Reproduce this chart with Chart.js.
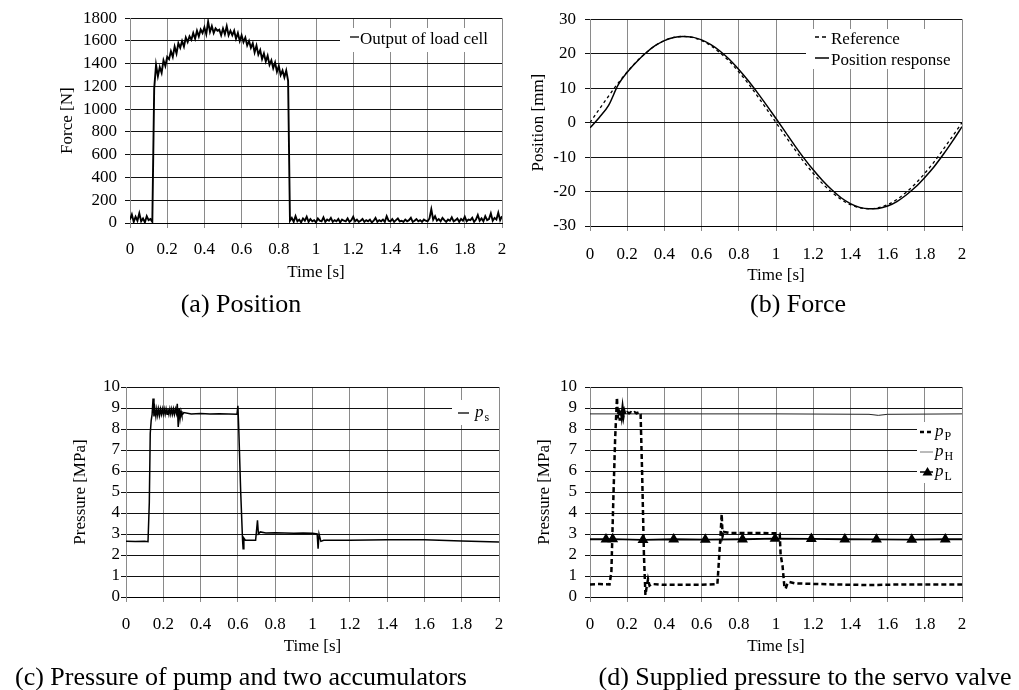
<!DOCTYPE html>
<html>
<head>
<meta charset="utf-8">
<script src="https://cdn.jsdelivr.net/npm/chart.js@4.4.1/dist/chart.umd.min.js"></script>
<style>
  html, body { margin: 0; padding: 0; background: #fff; }
  #wrap { position: relative; width: 1019px; height: 690px; overflow: hidden; }
  #wrap canvas { position: absolute; left: 0; top: 0; }
  .cap { position: absolute; transform: translate(-50%, -50%); white-space: nowrap;
         font: 26px 'Liberation Serif', 'Times New Roman', serif; color: #000; }
</style>
</head>
<body>
<div id="wrap">
  <canvas id="cA" width="1019" height="690"></canvas>
  <canvas id="cB" width="1019" height="690"></canvas>
  <canvas id="cC" width="1019" height="690"></canvas>
  <canvas id="cD" width="1019" height="690"></canvas>
  <div class="cap" style="left:241px;top:304px">(a) Position</div>
  <div class="cap" style="left:798px;top:304px">(b) Force</div>
  <div class="cap" style="left:241px;top:677px">(c) Pressure of pump and two accumulators</div>
  <div class="cap" style="left:805px;top:677px">(d) Supplied pressure to the servo valve</div>
</div>
<script>
// ---- tick labels ----
const timeTicks = ["0", "0.2", "0.4", "0.6", "0.8", "1", "1.2", "1.4", "1.6", "1.8", "2"];
const forceTicks = ["0", "200", "400", "600", "800", "1000", "1200", "1400", "1600", "1800"];
const positionTicks = ["-30", "-20", "-10", "0", "10", "20", "30"];
const pressureTicks = ["0", "1", "2", "3", "4", "5", "6", "7", "8", "9", "10"];

// ---- (a) load cell force, sampled every 0.01 s ----
const forceStep = 0.01;
const forceVal = [
  30, 75, 10, 55, 20, 85, 15, 40, 5, 60, 25, 35, 10,
  1180, 1390, 1290, 1370, 1320, 1430, 1380, 1460, 1440, 1510,
  1460, 1550, 1490, 1580, 1540, 1600, 1550, 1630, 1590, 1640,
  1610, 1670, 1620, 1690, 1640, 1700, 1670, 1720, 1660, 1770,
  1680, 1730, 1670, 1710, 1690, 1700, 1650, 1710, 1660, 1730,
  1650, 1690, 1650, 1690, 1620, 1670, 1600, 1650, 1590, 1630,
  1560, 1600, 1540, 1580, 1500, 1560, 1480, 1520, 1440, 1490,
  1420, 1470, 1390, 1430, 1360, 1410, 1330, 1380, 1300, 1340,
  1280, 1340, 1250,
  20, 45, 10, 60, 15, 30, 5, 40, 20, 55,
  10, 35, 15, 25, 5, 40, 20, 15, 50, 10,
  30, 20, 45, 10, 25, 15, 35, 5, 30, 20,
  15, 40, 10, 25, 55, 15, 30, 10, 20, 35,
  10, 25, 15, 30, 5, 20, 45, 10, 25, 15,
  30, 10, 60, 20, 15, 35, 10, 25, 40, 15,
  20, 10, 30, 15, 25, 45, 10, 20, 35, 15,
  25, 10, 30, 20, 15, 40, 120, 30, 60, 20,
  35, 15, 45, 25, 10, 30, 20, 50, 15, 25,
  40, 10, 35, 20, 55, 15, 30, 25, 45, 10,
  30, 70, 20, 40, 15, 60, 25, 35, 85, 20,
  45, 30, 90, 25, 60
];

// ---- (b) position, sampled every 0.05 s ----
const posStep = 0.05;
const posReference = [
  0, 3.9, 7.7, 11.4, 14.7, 17.7, 20.2, 22.3, 23.8, 24.7, 25,
  24.7, 23.8, 22.3, 20.2, 17.7, 14.7, 11.4, 7.7, 3.9, 0,
  -3.9, -7.7, -11.4, -14.7, -17.7, -20.2, -22.3, -23.8, -24.7, -25,
  -24.7, -23.8, -22.3, -20.2, -17.7, -14.7, -11.4, -7.7, -3.9, 0
];
const posResponse = [
  -1.5, 1.5, 5.0, 10.8, 14.6, 17.6, 20.2, 22.3, 23.8, 24.7, 25.0,
  24.8, 24.0, 22.6, 20.7, 18.3, 15.4, 12.2, 8.7, 5.0, 1.2,
  -2.7, -6.6, -10.3, -13.7, -16.8, -19.5, -21.8, -23.5, -24.6, -25.0,
  -24.9, -24.2, -22.9, -21.0, -18.7, -15.9, -12.8, -9.2, -5.3, -1.2
];

// ---- (c) p_s ----
const psTime = [
  0, 0.05, 0.1, 0.118, 0.125, 0.13, 0.135, 0.14, 0.145, 0.15,
  0.155, 0.16, 0.165, 0.17, 0.175, 0.18, 0.185, 0.19, 0.195, 0.2,
  0.205, 0.21, 0.215, 0.22, 0.225, 0.23, 0.235, 0.24, 0.245, 0.25,
  0.255, 0.26, 0.265, 0.27, 0.275, 0.28, 0.285, 0.29, 0.295, 0.3,
  0.31, 0.35, 0.4, 0.45, 0.5, 0.55, 0.595, 0.6, 0.605, 0.615,
  0.625, 0.628, 0.632, 0.64, 0.67, 0.695, 0.705, 0.71, 0.72, 0.75,
  0.8, 0.85, 0.9, 0.95, 1.0, 1.025, 1.03, 1.035, 1.045, 1.06,
  1.2, 1.4, 1.6, 1.8, 2.0
];
const psVal = [
  2.65, 2.64, 2.65, 2.63, 4.5, 7.8, 8.4, 8.7, 9.45, 8.6,
  8.95, 8.6, 8.95, 8.65, 8.95, 8.65, 8.95, 8.7, 8.95, 8.7,
  8.95, 8.7, 8.95, 8.7, 8.95, 8.7, 8.95, 8.7, 8.95, 8.7,
  8.95, 8.7, 8.95, 8.75, 9.2, 8.1, 9.0, 8.5, 8.85, 8.65,
  8.78, 8.72, 8.74, 8.72, 8.73, 8.72, 8.7, 9.1, 7.9, 5.0,
  2.7, 2.3, 2.8, 2.7, 2.7, 2.7, 3.65, 3.0, 3.1, 3.05,
  3.06, 3.05, 3.03, 3.05, 3.04, 3.0, 2.3, 3.0, 2.65, 2.7,
  2.7, 2.73, 2.73, 2.67, 2.62
];

// ---- (d) p_P, p_H, p_L ----
const ppTime = [
  0, 0.05, 0.105, 0.115, 0.125, 0.135, 0.145, 0.15, 0.155, 0.16,
  0.165, 0.17, 0.175, 0.18, 0.185, 0.19, 0.2, 0.21, 0.22, 0.23,
  0.24, 0.25, 0.265, 0.272, 0.28, 0.29, 0.298, 0.305, 0.312, 0.32,
  0.33, 0.4, 0.5, 0.6, 0.685, 0.695, 0.702, 0.708, 0.713, 0.72,
  0.75, 0.8, 0.9, 1.0, 1.02, 1.025, 1.035, 1.045, 1.052, 1.06,
  1.07, 1.1, 1.3, 1.5, 1.7, 2.0
];
const ppVal = [
  0.6, 0.62, 0.6, 1.2, 4.5, 7.5, 9.5, 8.5, 9.0, 8.4,
  8.9, 8.6, 9.0, 8.6, 8.85, 8.7, 8.8, 8.75, 8.8, 8.75,
  8.8, 8.75, 8.8, 8.7, 6.0, 2.0, 0.1, 0.5, 0.85, 0.55,
  0.62, 0.58, 0.58, 0.58, 0.62, 2.0, 3.0, 3.95, 2.9, 3.1,
  3.05, 3.05, 3.05, 3.03, 3.02, 2.0, 1.5, 0.5, 0.4, 0.6,
  0.72, 0.65, 0.6, 0.57, 0.6, 0.6
];
const phTime = [0, 0.5, 1.0, 1.5, 1.55, 1.6, 2.0];
const phVal = [8.72, 8.72, 8.72, 8.7, 8.65, 8.7, 8.72];
const plTime = [0, 0.086, 0.122, 0.285, 0.45, 0.62, 0.82, 0.995, 1.19, 1.37, 1.54, 1.73, 1.91, 2.0];
const plVal = [2.75, 2.75, 2.76, 2.72, 2.75, 2.73, 2.75, 2.78, 2.77, 2.75, 2.74, 2.73, 2.75, 2.75];

const FONT = "'Liberation Serif', 'Times New Roman', serif";

function pts(xs, ys) { return ys.map((y, i) => ({ x: xs[i], y })); }
function stepPts(step, ys) { return ys.map((y, i) => ({ x: i * step, y })); }

// white-boxed legend drawn over the grid, under the data
const boxLegend = {
  id: "boxLegend",
  beforeDatasetsDraw(chart, args, opts) {
    if (!opts || !opts.box) return;
    const ctx = chart.ctx;
    const [bx, by, bw, bh] = opts.box;
    ctx.save();
    ctx.fillStyle = "#fff";
    ctx.fillRect(bx, by, bw, bh);
    opts.items.forEach(it => {
      ctx.strokeStyle = it.color || "#000";
      ctx.lineWidth = it.width || 1.2;
      ctx.setLineDash(it.dash || []);
      ctx.beginPath();
      ctx.moveTo(it.x0, it.ly);
      ctx.lineTo(it.x1, it.ly);
      ctx.stroke();
      ctx.setLineDash([]);
      if (it.marker) {
        const mx = (it.x0 + it.x1) / 2 + 1, my = it.ly;
        ctx.fillStyle = "#000";
        ctx.beginPath();
        ctx.moveTo(mx, my - 5);
        ctx.lineTo(mx + 5, my + 3.5);
        ctx.lineTo(mx - 5, my + 3.5);
        ctx.closePath();
        ctx.fill();
      }
      let x = it.tx;
      ctx.fillStyle = "#000";
      ctx.textBaseline = "middle";
      ctx.textAlign = "left";
      it.parts.forEach(p => {
        if (p.sub) {
          ctx.font = "12px " + FONT;
          ctx.fillText(p.t, x, it.ty + 5);
        } else {
          ctx.font = (p.italic ? "italic " : "") + "17px " + FONT;
          ctx.fillText(p.t, x, it.ty);
        }
        x += ctx.measureText(p.t).width + (p.italic ? 1 : 0);
      });
    });
    ctx.restore();
  }
};

function makePanel(canvasId, cfg) {
  const tickFont = { family: FONT, size: 17 };
  return new Chart(document.getElementById(canvasId), {
    type: "line",
    data: { datasets: cfg.datasets },
    options: {
      responsive: false,
      animation: false,
      events: [],
      layout: { padding: cfg.padding },
      plugins: {
        legend: { display: false },
        tooltip: { enabled: false },
        boxLegend: cfg.legend
      },
      scales: {
        x: {
          type: "linear", min: 0, max: 2,
          afterFit: s => { s.height = 60; },
          ticks: {
            stepSize: 0.2, autoSkip: false, maxRotation: 0, padding: cfg.xTickPad,
            color: "#000", font: tickFont,
            callback: (v, i) => timeTicks[i]
          },
          grid: { color: "#8a8a8a", tickLength: 5, lineWidth: 1 },
          border: { color: "#000" },
          title: { display: true, text: "Time [s]", color: "#000", font: tickFont,
                   padding: { top: 0, bottom: 0 } }
        },
        y: {
          min: cfg.yMin, max: cfg.yMax,
          afterFit: s => { s.width = 80; },
          ticks: {
            stepSize: cfg.yStep, autoSkip: false, padding: cfg.yTickPad, color: "#000", font: tickFont,
            callback: (v, i) => cfg.yLabels[i]
          },
          grid: { color: "#111", tickLength: 5, lineWidth: 1 },
          border: { color: "#8a8a8a" },
          title: { display: true, text: cfg.yTitle, color: "#000", font: tickFont,
                   padding: { top: cfg.yTitlePad, bottom: 0 } }
        }
      }
    },
    plugins: [boxLegend]
  });
}

const solid = { borderColor: "#000", pointRadius: 0, fill: false, tension: 0 };

// (a)
makePanel("cA", {
  padding: { left: 50, top: 17, right: 517, bottom: 407 },
  yMin: 0, yMax: 1800, yStep: 200, yLabels: forceTicks, yTitle: "Force [N]",
  yTickPad: 8, yTitlePad: 7.8, xTickPad: 11,
  datasets: [Object.assign({}, solid, { label: "Output of load cell", data: stepPts(forceStep, forceVal), borderWidth: 1.9 })],
  legend: {
    box: [340, 28, 162, 24],
    items: [{ x0: 350, x1: 359, ly: 37, width: 1.3, tx: 360, ty: 40, parts: [{ t: "Output of load cell" }] }]
  }
});

// (b)
makePanel("cB", {
  padding: { left: 510, top: 16, right: 57, bottom: 404 },
  yMin: -30, yMax: 30, yStep: 10, yLabels: positionTicks, yTitle: "Position [mm]",
  yTickPad: 9, yTitlePad: 18.8, xTickPad: 13,
  datasets: [
    Object.assign({}, solid, { label: "Reference", data: stepPts(posStep, posReference), borderWidth: 1.3,
      borderDash: [3, 3], cubicInterpolationMode: "monotone" }),
    Object.assign({}, solid, { label: "Position response", data: stepPts(posStep, posResponse), borderWidth: 1.5,
      cubicInterpolationMode: "monotone" })
  ],
  legend: {
    box: [806, 29, 156, 40],
    items: [
      { x0: 815, x1: 829, ly: 37, width: 1.3, dash: [4, 3], tx: 831, ty: 40, parts: [{ t: "Reference" }] },
      { x0: 815, x1: 829, ly: 58, width: 1.5, tx: 831, ty: 61, parts: [{ t: "Position response" }] }
    ]
  }
});

// (c)
makePanel("cC", {
  padding: { left: 46, top: 387, right: 520, bottom: 33 },
  yMin: 0, yMax: 10, yStep: 1, yLabels: pressureTicks, yTitle: "Pressure [MPa]",
  yTickPad: 1, yTitlePad: 24.8, xTickPad: 12,
  datasets: [Object.assign({}, solid, { label: "ps", data: pts(psTime, psVal), borderWidth: 1.5 })],
  legend: {
    box: [452, 400, 47, 25],
    items: [{ x0: 458, x1: 469, ly: 413, width: 1.3, tx: 475, ty: 413,
              parts: [{ t: "p", italic: true }, { t: "s", sub: true }] }]
  }
});

// (d)
makePanel("cD", {
  padding: { left: 510, top: 387, right: 57, bottom: 33 },
  yMin: 0, yMax: 10, yStep: 1, yLabels: pressureTicks, yTitle: "Pressure [MPa]",
  yTickPad: 8, yTitlePad: 24.8, xTickPad: 12,
  datasets: [
    Object.assign({}, solid, { label: "pP", data: pts(ppTime, ppVal), borderWidth: 2.5, borderDash: [5, 3] }),
    Object.assign({}, solid, { label: "pH", data: pts(phTime, phVal), borderWidth: 1, borderColor: "#222" }),
    Object.assign({}, solid, { label: "pL", data: pts(plTime, plVal), borderWidth: 1.8,
      pointStyle: "triangle", backgroundColor: "#000", pointBorderColor: "#000",
      pointRadius: plTime.map((t, i) => (i === 0 || i === plTime.length - 1) ? 0 : 4.5) })
  ],
  legend: {
    box: [917, 422, 45, 61],
    items: [
      { x0: 920, x1: 933, ly: 432, width: 2.5, dash: [4, 3], tx: 935, ty: 432,
        parts: [{ t: "p", italic: true }, { t: "P", sub: true }] },
      { x0: 920, x1: 933, ly: 452, width: 1, color: "#777", tx: 935, ty: 452,
        parts: [{ t: "p", italic: true }, { t: "H", sub: true }] },
      { x0: 920, x1: 933, ly: 472, width: 1.5, marker: true, tx: 935, ty: 472,
        parts: [{ t: "p", italic: true }, { t: "L", sub: true }] }
    ]
  }
});
</script>
</body>
</html>
